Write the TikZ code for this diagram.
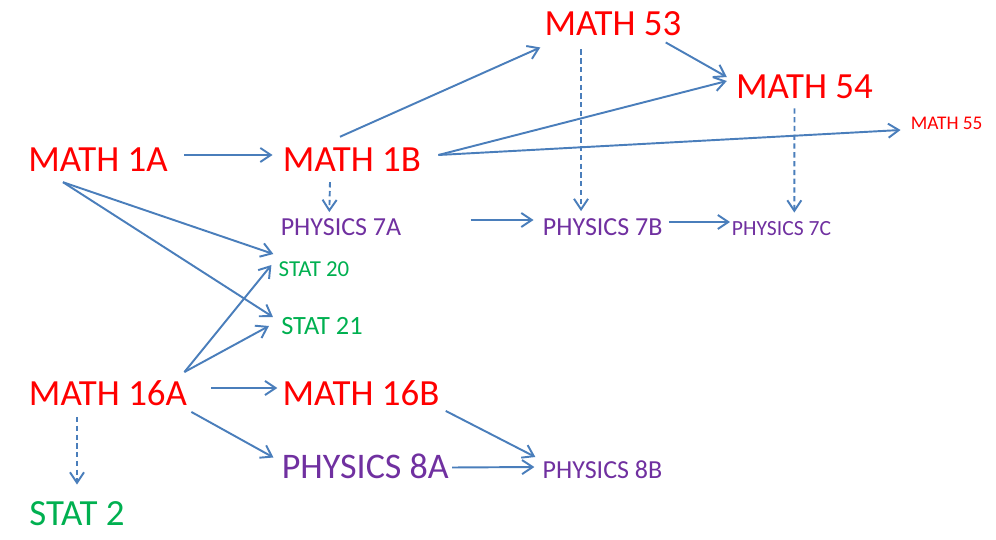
\documentclass[tikz,border=0pt]{standalone}
\usepackage{fontspec}
\setmainfont{Carlito}
\usetikzlibrary{arrows.meta, calc}

\definecolor{mathred}{RGB}{255,0,0}
\definecolor{physpurple}{RGB}{112,48,160}
\definecolor{statgreen}{RGB}{0,176,80}
\definecolor{linkblue}{RGB}{74,126,187}

\tikzset{
  course/.style={inner sep=0pt},
  mathnode/.style={course, text=mathred},
  physnode/.style={course, text=physpurple},
  statnode/.style={course, text=statgreen},
  bigtext/.style={font=\fontsize{21}{25}\selectfont},
  midtext/.style={font=\fontsize{14.8}{18}\selectfont},
  smalltext/.style={font=\fontsize{12.3}{15}\selectfont},
  linkline/.style={draw=linkblue, line width=1.1pt, -{Straight Barb[length=6pt,width=8pt]}},
  dashline/.style={linkline, dash pattern=on 3pt off 2pt},
}

\begin{document}
\begin{tikzpicture}[x=0.02cm, y=-0.02cm]
\useasboundingbox (0,0) rectangle (996,540);

% Calculus
\node[mathnode, bigtext] (m1a) at (98,160) {MATH 1A};
\node[mathnode, bigtext] (m1b) at (352,160) {MATH 1B};
\node[mathnode, bigtext] (m53) at (613,24) {MATH 53};
\node[mathnode, bigtext] (m54) at (804.5,87) {MATH 54};
\node[mathnode, font=\fontsize{11}{13}\selectfont] (m55) at (946.7,123) {MATH 55};
\node[mathnode, bigtext] (m16a) at (108,393) {MATH 16A};
\node[mathnode, bigtext] (m16b) at (361,393) {MATH 16B};

% Physics
\node[physnode, midtext] (p7a) at (341,227) {PHYSICS 7A};
\node[physnode, midtext] (p7b) at (602.7,227) {PHYSICS 7B};
\node[physnode, smalltext] (p7c) at (781.5,229) {PHYSICS 7C};
\node[physnode, font=\fontsize{20.5}{24}\selectfont] (p8a) at (365.3,466.5) {PHYSICS 8A};
\node[physnode, midtext] (p8b) at (602.5,470) {PHYSICS 8B};

% Statistics
\node[statnode, font=\fontsize{13}{16}\selectfont] (s20) at (314,269) {STAT 20};
\node[statnode, font=\fontsize{15}{18}\selectfont] (s21) at (322,326) {STAT 21};
\node[statnode, bigtext] (s2) at (77,514) {STAT 2};

% Math 1A / 1B
\draw[linkline] ($(m1a.east)+(16,-5)$) -- ($(m1b.west)+(-10,-5)$);
\draw[linkline] ($(m1a.south)+(-35,10)$) -- ($(s20.west)+(-5,-15)$);
\draw[linkline] ($(m1a.south)+(-35,10)$) -- ($(s21.west)+(-8,-9)$);
\draw[linkline] ($(m1b.north)+(-12,-11)$) -- ($(m53.south west)+(-4,11)$);
\draw[linkline] ($(m1b.east)+(17,-5)$) -- ($(m54.west)+(-9,-6)$);
\draw[linkline] ($(m1b.east)+(17,-5)$) -- ($(m55.west)+(-10,7)$);
\draw[dashline] ($(m1b.south)+(-22,10)$) -- ($(p7a.north)+(-11.7,-6)$);

% Math 53 / 54
\draw[linkline] ($(m53.south east)+(-16,6)$) -- ($(m54.west)+(-9,-10)$);
\draw[dashline] ($(m53.south)+(-32,13)$) -- ($(p7b.north)+(-21.7,-7)$);
\draw[dashline] ($(m54.south)+(-10,9)$) -- ($(p7c.north)+(12.8,-9)$);

% Physics 7
\draw[linkline] ($(p7a.east)+(69,-7)$) -- ($(p7b.west)+(-9,-7)$);
\draw[linkline] ($(p7b.east)+(6,-5)$) -- ($(p7c.west)+(-1.5,-7)$);

% Math 16A / 16B
\draw[linkline] ($(m16a.north east)+(-3,-8)$) -- ($(s20.west)+(-7,-4)$);
\draw[linkline] ($(m16a.north east)+(-3,-8)$) -- ($(s21.west)+(-12,0)$);
\draw[linkline] ($(m16a.east)+(24,-5)$) -- ($(m16b.west)+(-5,-5)$);
\draw[linkline] ($(m16a.south east)+(4,6)$) -- ($(p8a.west)+(-8,-9)$);
\draw[dashline] ($(m16a.south)+(-31,11)$) -- ($(s2.north)+(0,-17)$);
\draw[linkline] ($(m16b.south east)+(6,5)$) -- ($(p8b.west)+(-7,-13)$);
\draw[linkline] ($(p8a.east)+(3,1)$) -- ($(p8b.west)+(-8,-3)$);

\end{tikzpicture}
\end{document}
